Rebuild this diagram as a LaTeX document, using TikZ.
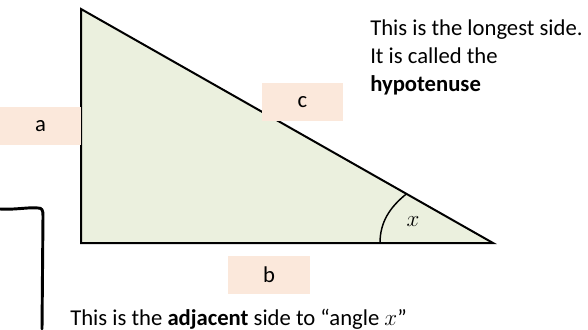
\documentclass[tikz,border=0pt]{standalone}
\usepackage{fontspec}
\setmainfont{Carlito}
\usetikzlibrary{calc}
\definecolor{trifill}{HTML}{EBF0DE}
\definecolor{peach}{HTML}{FBE8DB}

\begin{document}
\begin{tikzpicture}[x=0.75pt, y=-0.75pt, font=\fontsize{17}{21}\selectfont,
    sidebox/.style={fill=peach, minimum width=61pt, minimum height=28.5pt, inner sep=0pt},
    note/.style={anchor=base west, align=left, inner sep=0pt}]
    \useasboundingbox (0,0) rectangle (588,329);

    % 1. triangle corners and fill
    \coordinate (top) at (81,9);
    \coordinate (corner) at (81,243);
    \coordinate (tip) at (493,243);
    \fill[trifill] (top) -- (corner) -- (tip) -- cycle;
    \draw[line width=1.5pt] (top) -- (corner) -- (tip) -- cycle;

    % 2. angle mark at the tip
    \coordinate (arcbase) at ($(tip)+(-113,0)$);
    \coordinate (archyp) at ($(tip)!0.21!(top)$);
    \draw[line width=1.1pt] (arcbase) .. controls ($(arcbase)+(0,-21)$) and ($(arcbase)+(10,-36)$) .. (archyp);
    \node (angx) at (413,222) {$x$};

    % 3. side labels
    \node[sidebox] (a) at (40.5,126) {a};
    \node[sidebox] (c) at (302.5,102) {c};
    \node[sidebox] (b) at (269,274.5) {b};

    % 4. notes (base of a multi-line node is its last line)
    \node[note] (hyp) at (370,91) {This is the longest side.\\It is called the\\\textbf{hypotenuse}};
    \node[note] (adj) at (70,325) {This is the \textbf{adjacent} side to “angle $x$”};

    % 5. hand-drawn bracket
    \draw[line width=2.2pt, line cap=round, line join=round]
      (0,209) .. controls (15,210) and (28,207) .. (38,208)
      .. controls (42,208) and (43,210) .. (43,216) -- (42,329);

  \end{tikzpicture}
\end{document}
